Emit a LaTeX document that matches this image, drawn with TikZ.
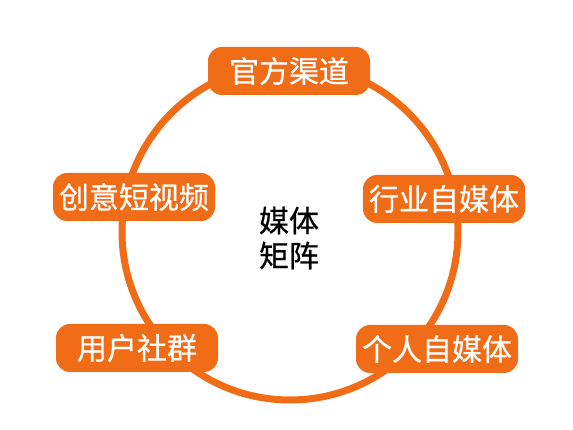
\documentclass[tikz,border=0pt]{standalone}
\usepackage{fontspec}
\setmainfont{Noto Sans CJK SC}
\usetikzlibrary{positioning}
\definecolor{mediaorange}{RGB}{241,108,22}

\begin{document}
\begin{tikzpicture}[x = 1pt, y = 1pt, font = \fontsize{30}{35}\selectfont\addfontfeature{FakeBold = 0.6}, every node/.style = {inner sep = 0pt}, chan/.style = {rectangle, rounded corners = 14pt, fill = mediaorange, text = white, minimum width = 162pt, minimum height = 48pt}]
    \useasboundingbox (0, 0) rectangle (573, 430);
    \coordinate (mid) at (290, 198);
    \draw[mediaorange, line width = 7pt] (mid) circle (168);
    \node[align = center] (matrix) at (289, 192) {媒体\\矩阵};
    \node[chan] (official) at (289, 359) {官方渠道};
    \node[chan] (video) at (134, 233) {创意短视频};
    \node[chan] (industry) at (444, 231) {行业自媒体};
    \node[chan] (community) at (137, 82) {用户社群};
    \node[chan] (personal) at (437, 81) {个人自媒体};
\end{tikzpicture}
\end{document}
